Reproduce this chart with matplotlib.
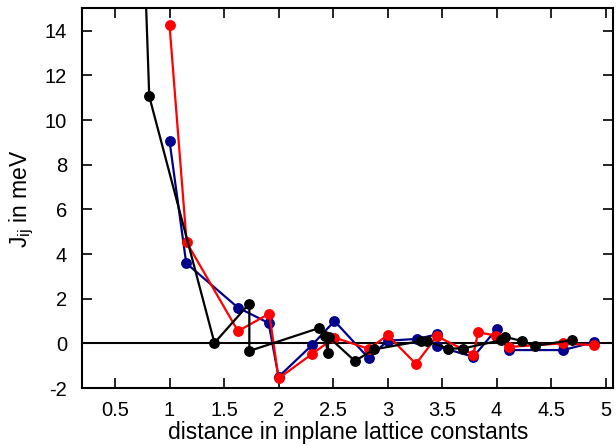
import matplotlib
matplotlib.use("Agg")
import matplotlib.pyplot as plt

plt.rcParams['font.family'] = ['Liberation Sans', 'DejaVu Sans']
plt.rcParams['axes.unicode_minus'] = False

# black series
x_black = [0.707, 0.814, 1.412, 1.732, 1.732, 2.375, 2.43, 2.449, 2.46, 2.70,
           2.876, 3.31, 3.36, 3.55, 3.69, 4.04, 4.08, 4.236, 4.352, 4.689]
y_black = [26.0, 11.06, 0.02, 1.78, -0.34, 0.69, 0.32, -0.43, 0.28, -0.79,
           -0.27, 0.11, 0.11, -0.23, -0.23, 0.14, 0.29, 0.10, -0.11, 0.14]

# blue series
x_blue = [1.0, 1.153, 1.628, 1.909, 2.0, 2.306, 2.513, 2.826, 3.0, 3.27,
          3.452, 3.452, 3.787, 4.0, 4.11, 4.61, 4.89]
y_blue = [9.06, 3.59, 1.6, 0.91, -1.5, -0.08, 1.0, -0.66, 0.12, 0.2,
          0.4, -0.13, -0.6, 0.64, -0.3, -0.3, 0.05]

# red series
x_red = [1.0, 1.157, 1.628, 1.915, 2.0, 2.306, 2.513, 2.83, 3.0, 3.26,
         3.452, 3.787, 3.83, 3.99, 4.11, 4.61, 4.89]
y_red = [14.25, 4.52, 0.55, 1.33, -1.57, -0.48, 0.26, -0.25, 0.37, -0.92,
         0.32, -0.5, 0.5, 0.35, -0.16, 0.0, -0.08]

xticks = [0.5, 1, 1.5, 2, 2.5, 3, 3.5, 4, 4.5, 5]
xticklabels = ['0.5', '1', '1.5', '2', '2.5', '3', '3.5', '4', '4.5', '5']
yticks = [-2, 0, 2, 4, 6, 8, 10, 12, 14]

fig = plt.figure(figsize=(6.16, 4.45), dpi=100)
ax = fig.add_axes([0.1336, 0.128, 0.862, 0.8533])

ax.axhline(0, color='black', lw=1.5, zorder=1)

ax.plot(x_blue, y_blue, '-o', color='#00008b', lw=1.6, ms=6.8, zorder=2)
ax.plot(x_red, y_red, '-o', color='#ff0000', lw=1.6, ms=6.8, zorder=3)
ax.plot(x_black, y_black, '-o', color='black', lw=1.6, ms=6.8, zorder=4)

ax.set_xlim(0.2, 5.07)
ax.set_ylim(-2, 15)
ax.set_xticks(xticks)
ax.set_xticklabels(xticklabels)
ax.set_yticks(yticks)
ax.tick_params(direction='in', length=7, width=1.2, top=True, right=True,
               labelsize=14.5)
ax.tick_params(axis='x', pad=9)
ax.tick_params(axis='y', pad=11)
for s in ax.spines.values():
    s.set_linewidth(1.5)

ax.set_xlabel('distance in inplane lattice constants', fontsize=16.5, labelpad=1)
ax.set_ylabel('J$_{\\mathregular{ij}}$ in meV', fontsize=16.5, labelpad=6)

fig.savefig('out.png', dpi=100)
